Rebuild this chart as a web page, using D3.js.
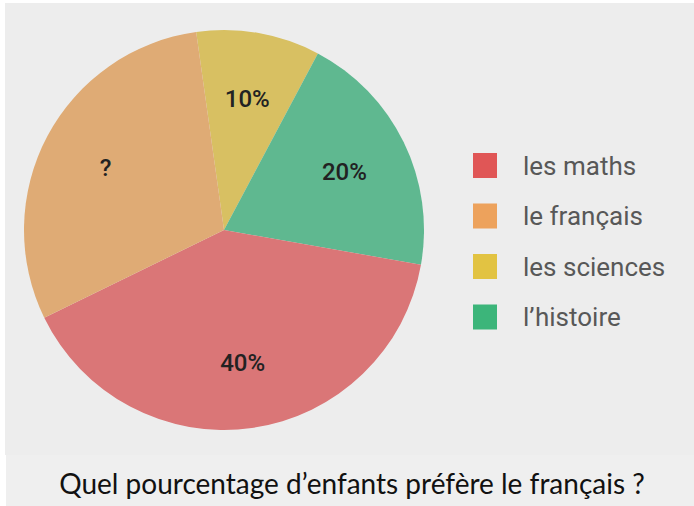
<!DOCTYPE html>
<html>
<head>
<meta charset="utf-8">
<script src="https://cdn.jsdelivr.net/npm/d3@7"></script>
<style>
  body { margin: 0; background: #ffffff; }
</style>
</head>
<body>
<div id="chart"></div>
<script>
// slice order is clockwise from the top (science first)
let subjects = ['les sciences', "l\u2019histoire", 'les maths', 'le fran\u00e7ais'];
let shares = [10, 20, 40, 30];
let sliceLabels = ['10%', '20%', '40%', '?'];
let sliceColors = ['#d8c062', '#5eb890', '#da7677', '#dfab74'];

// legend order as shown on the right
let legendNames = ['les maths', 'le fran\u00e7ais', 'les sciences', "l\u2019histoire"];
let legendColors = ['#e05656', '#eda25c', '#e2c342', '#3cb57a'];

let question = 'Quel pourcentage d\u2019enfants pr\u00e9f\u00e8re le fran\u00e7ais ?';

let width = 694, height = 506;

let svg = d3.select('#chart').append('svg')
    .attr('width', width)
    .attr('height', height);

// photo area + caption band
svg.append('rect').attr('x', 5).attr('y', 3).attr('width', width - 5).attr('height', 452).attr('fill', '#ededed');
svg.append('rect').attr('x', 6).attr('y', 455).attr('width', width - 6).attr('height', height - 455).attr('fill', '#efefef');

let defs = svg.append('defs');
defs.append('filter').attr('id', 'soft')
    .append('feGaussianBlur').attr('stdDeviation', 0.7);

let CENTER = svg.append('g').attr('transform', 'translate(' + 224 + ',' + 230 + ')');

let radius = 200;
let start = -8 * Math.PI / 180;

let pie = d3.pie().sort(null).startAngle(start).endAngle(start + 2 * Math.PI);
let arcs = pie(shares);

let arc = d3.arc().innerRadius(0).outerRadius(radius);
let labelArc = d3.arc().innerRadius(134).outerRadius(134);

CENTER.append('g')
    .attr('filter', 'url(#soft)')
    .selectAll('path')
    .data(arcs)
    .enter()
    .append('path')
    .attr('d', arc)
    .attr('fill', (d, i) => sliceColors[i]);

CENTER.append('g')
    .selectAll('text')
    .data(arcs)
    .enter()
    .append('text')
    .attr('transform', (d) => 'translate(' + labelArc.centroid(d) + ')')
    .attr('text-anchor', 'middle')
    .attr('dy', '0.36em')
    .attr('font-family', 'Roboto, sans-serif')
    .attr('font-weight', 500)
    .attr('font-size', 24)
    .attr('fill', '#222222')
    .text((d, i) => sliceLabels[i]);

// legend
let legendY = d3.scalePoint().domain(legendNames).range([165.5, 317]);

let legend = svg.append('g')
    .selectAll('g')
    .data(legendNames)
    .enter()
    .append('g')
    .attr('transform', (d) => 'translate(473,' + legendY(d) + ')');

legend.append('rect')
    .attr('x', 0)
    .attr('y', -12.5)
    .attr('width', 24)
    .attr('height', 25)
    .attr('fill', (d, i) => legendColors[i]);

legend.append('text')
    .attr('x', 50)
    .attr('y', 9)
    .attr('font-family', 'Roboto, sans-serif')
    .attr('font-size', 26)
    .attr('fill', '#585858')
    .text((d) => d);

svg.append('text')
    .attr('x', 352)
    .attr('y', 494)
    .attr('text-anchor', 'middle')
    .attr('font-family', 'Lato, sans-serif')
    .attr('font-size', 28)
    .attr('fill', '#111111')
    .text(question);
</script>
</body>
</html>
